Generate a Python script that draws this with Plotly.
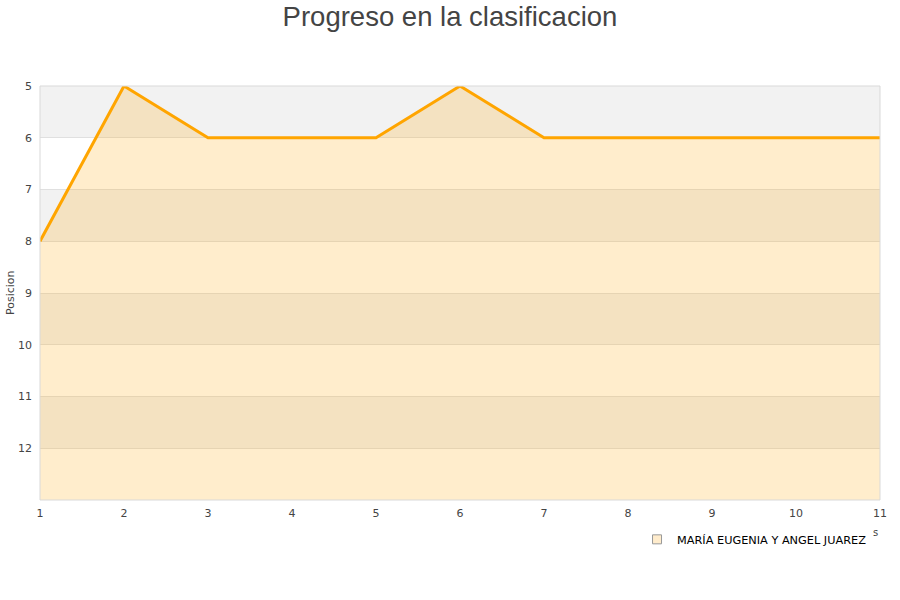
import plotly.graph_objects as go

jornadas = [1, 2, 3, 4, 5, 6, 7, 8, 9, 10, 11]
posicion = [8, 5, 6, 6, 6, 5, 6, 6, 6, 6, 6]
serie = "MARÍA EUGENIA Y ANGEL JUAREZ"
y_ticks = [5, 6, 7, 8, 9, 10, 11, 12]
y_min, y_max = 5, 13

fig = go.Figure()
# baseline for fill
fig.add_trace(go.Scatter(x=jornadas, y=[y_max] * len(jornadas), mode="lines",
                         line=dict(width=0, color="rgba(0,0,0,0)"),
                         showlegend=False, hoverinfo="skip"))
fig.add_trace(go.Scatter(x=jornadas, y=posicion, mode="lines", fill="tonexty",
                         fillcolor="rgba(255,165,0,0.2)",
                         line=dict(color="#ffa500", width=3),
                         showlegend=False, name=serie))
# legend entry
fig.add_trace(go.Scatter(x=[None], y=[None], mode="markers", name=serie,
                         marker=dict(symbol="square", size=9, color="#ffeccc",
                                     line=dict(color="#999999", width=1))))

shapes = []
for i, lo in enumerate(range(y_min, y_max)):
    if i % 2 == 0:
        shapes.append(dict(type="rect", xref="paper", yref="y", x0=0, x1=1,
                           y0=lo, y1=lo + 1, fillcolor="#f2f2f2",
                           line=dict(width=0), layer="below"))
shapes.append(dict(type="rect", xref="paper", yref="paper", x0=0, x1=1, y0=0, y1=1,
                   line=dict(color="#d9d9d9", width=1), layer="above"))

fig.update_layout(
    width=900, height=600,
    margin=dict(l=40, r=20, t=86, b=100, autoexpand=False),
    paper_bgcolor="white", plot_bgcolor="white",
    title=dict(text="Progreso en la clasificacion", x=0.5, xanchor="center",
               y=0.973, yanchor="middle",
               font=dict(family="Liberation Sans", size=27.5, color="#444444")),
    shapes=shapes,
    showlegend=True,
    legend=dict(x=0.9905, xanchor="right", y=-0.060, yanchor="top",
                font=dict(family="DejaVu Sans", size=11.3, color="#000000"),
                bgcolor="rgba(0,0,0,0)", itemwidth=30),
    font=dict(family="DejaVu Sans", size=11, color="#444444"),
)
fig.update_xaxes(range=[1, 11], tickvals=jornadas, showgrid=False, zeroline=False,
                 ticks="", showline=False, automargin=False, ticklabelstandoff=5,
                 tickfont=dict(size=11, color="#444444"))
fig.update_yaxes(range=[y_max, y_min], tickvals=y_ticks, showgrid=True,
                 gridcolor="#e0e0e0", gridwidth=1, zeroline=False, ticks="",
                 automargin=False, ticklabelstandoff=7,
                 tickfont=dict(size=11, color="#444444"))
fig.add_annotation(text="Posicion", xref="paper", yref="paper", x=-0.0357, y=0.5,
                   xanchor="center", yanchor="middle",
                   textangle=-90, showarrow=False,
                   font=dict(size=11, color="#444444"))
fig.add_annotation(text="s", xref="paper", yref="paper", x=1.0003, y=-0.097,
                   showarrow=False, font=dict(size=10, color="#444444"))

fig.write_html("out.html", config={"displayModeBar": False},
               post_script="document.body.style.margin='0px';")
